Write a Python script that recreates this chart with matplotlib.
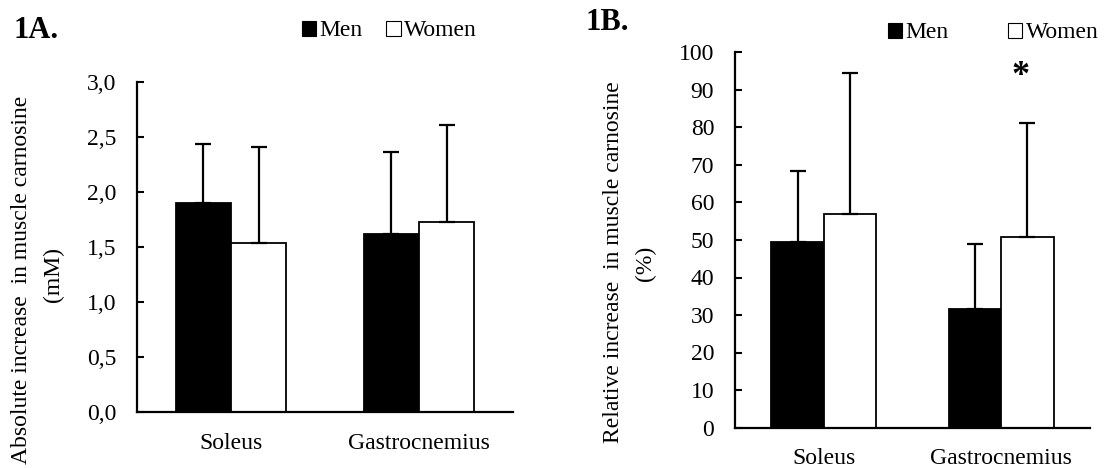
import numpy as np
import matplotlib
matplotlib.use('Agg')
import matplotlib.pyplot as plt
from matplotlib.patches import Patch

plt.rcParams['font.family'] = ['Liberation Serif', 'DejaVu Serif']

muscles = ['Soleus', 'Gastrocnemius']
groups = ['Men', 'Women']

# absolute increase (mM), mean and SD
abs_men = [1.90, 1.62]
abs_women = [1.54, 1.73]
abs_men_sd = [0.54, 0.74]
abs_women_sd = [0.87, 0.88]

# relative increase (%), mean and SD
rel_men = [49.5, 31.6]
rel_women = [56.8, 50.8]
rel_men_sd = [18.9, 17.4]
rel_women_sd = [37.7, 30.5]

W, H = 1104, 468
FS = 17
BW = 0.295
fig = plt.figure(figsize=(W / 100, H / 100), dpi=100)


def px_axes(x0, y0, x1, y1):
    return fig.add_axes([x0 / W, 1 - y1 / H, (x1 - x0) / W, (y1 - y0) / H])


def bars(ax, men, women, men_sd, women_sd):
    x = np.arange(len(muscles))
    ekw = dict(elinewidth=1.6, capthick=1.6)
    ax.bar(x - BW / 2, men, BW, color='black', edgecolor='black', linewidth=1.3,
           yerr=[np.zeros(len(men)), men_sd], capsize=5.5, error_kw=ekw, zorder=2)
    ax.bar(x + BW / 2, women, BW, color='white', edgecolor='black', linewidth=1.3,
           yerr=[np.zeros(len(women)), women_sd], capsize=5.5, error_kw=ekw, zorder=2)
    ax.set_xlim(-0.5, 1.5)
    ax.set_xticks(x)
    ax.set_xticklabels(muscles, fontsize=FS)
    ax.tick_params(axis='x', length=0, pad=15)
    ax.tick_params(axis='y', direction='in', length=5, width=1.5, labelsize=FS, pad=15)
    for s in ['top', 'right']:
        ax.spines[s].set_visible(False)
    for s in ['left', 'bottom']:
        ax.spines[s].set_linewidth(1.6)


def legend(ax, x, y, gap):
    handles = [Patch(facecolor='black', edgecolor='black', linewidth=0.8),
               Patch(facecolor='white', edgecolor='black', linewidth=0.8)]
    ax.legend(handles, groups, loc='center left', bbox_to_anchor=(x / W, 1 - y / H),
              bbox_transform=fig.transFigure, ncol=2, frameon=False, fontsize=FS,
              handlelength=0.6, handleheight=0.6, handletextpad=0.15,
              columnspacing=gap, borderpad=0, borderaxespad=0)


# panel A
axA = px_axes(137, 82, 513, 412)
bars(axA, abs_men, abs_women, abs_men_sd, abs_women_sd)
axA.set_ylim(0, 3.0)
axA.set_yticks(np.arange(0, 3.01, 0.5))
axA.set_yticklabels([f'{v:.1f}'.replace('.', ',') for v in np.arange(0, 3.01, 0.5)])
legend(axA, 302, 31, 1.0)
fig.text(13 / W, 1 - 30 / H, '1A.', fontsize=22, fontweight='bold', va='center', ha='left')
fig.text(21.7 / W, 1 - 280 / H, 'Absolute increase  in muscle carnosine', rotation=90,
         fontsize=FS, ha='center', va='center')
fig.text(53 / W, 1 - 274 / H, '(mM)', rotation=90, fontsize=FS, ha='center', va='center')

# panel B
axB = px_axes(735, 52.5, 1090, 427.5)
bars(axB, rel_men, rel_women, rel_men_sd, rel_women_sd)
axB.set_ylim(0, 100)
axB.set_yticks(np.arange(0, 101, 10))
axB.text(1 + BW / 2 - 0.036, 93.5, '*', fontsize=26, fontweight='bold', ha='center', va='center')
legend(axB, 888, 33, 2.5)
fig.text(586 / W, 1 - 23 / H, '1B.', fontsize=22, fontweight='bold', va='center', ha='left')
fig.text(613.8 / W, 1 - 262 / H, 'Relative increase  in muscle carnosine', rotation=90,
         fontsize=FS, ha='center', va='center')
fig.text(645 / W, 1 - 263 / H, '(%)', rotation=90, fontsize=FS, ha='center', va='center')

fig.savefig('out.png', dpi=100)
